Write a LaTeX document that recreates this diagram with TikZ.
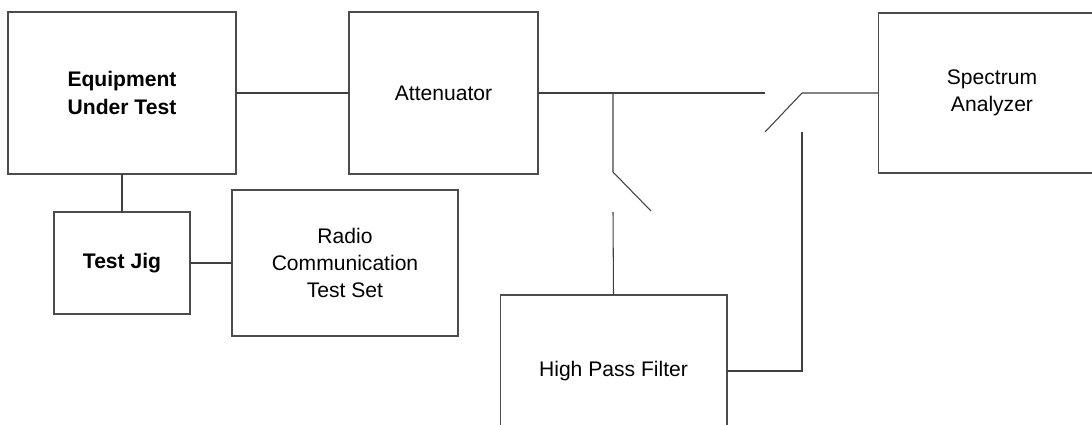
\documentclass[tikz,border=0pt]{standalone}
\usepackage{fontspec}
\setmainfont{Liberation Sans}
\begin{document}
\begin{tikzpicture}[x=0.02cm,y=-0.02cm,
  box/.style={draw=black!70, line width=0.6pt, inner sep=0pt, outer sep=0pt, align=center, font=\fontsize{12}{15.5}\selectfont},
  wire/.style={draw=black!75, line width=0.6pt}]
\useasboundingbox (0,0) rectangle (1092,424);
\clip (0,0) rectangle (1092,424);
\node[box, minimum width=4.56cm, minimum height=3.24cm, font=\fontsize{12}{15.5}\selectfont\bfseries] (eut) at (122,93) {Equipment\\Under Test};
\node[box, minimum width=3.78cm, minimum height=3.24cm] (att) at (443.5,93) {Attenuator};
\node[box, minimum width=2.72cm, minimum height=2.04cm, font=\fontsize{12}{15.5}\selectfont\bfseries] (jig) at (122,263) {Test Jig};
\node[box, minimum width=4.52cm, minimum height=2.92cm] (radio) at (345,263) {Radio\\Communication\\Test Set};
\node[box, minimum width=4.54cm, minimum height=3.04cm] (hpf) at (613.5,371) {High Pass Filter};
\node[box, minimum width=4.56cm, minimum height=3.2cm] (sa) at (992,93) {Spectrum\\Analyzer};
% switch points
\coordinate (j) at (613,93);
\coordinate (s1a) at (613,172);
\coordinate (s1b) at (651,211);
\coordinate (s1c) at (613,212);
\coordinate (m1) at (765,93);
\coordinate (s2a) at (765,132);
\coordinate (s2b) at (802,93);
\coordinate (h1) at (802,371);
\coordinate (h2) at (802,132);
\draw[wire] (eut.east) -- (att.west);
\draw[wire] (eut.south) -- (jig.north);
\draw[wire] (jig.east) -- (radio.west);
\draw[wire] (att.east) -- (m1);
\draw[wire] (j) -- (s1a) -- (s1b);
\draw[wire] (s1c) -- (hpf.north);
\draw[wire] (hpf.east) -- (h1) -- (h2);
\draw[wire] (s2a) -- (s2b) -- (sa.west);
\end{tikzpicture}
\end{document}
